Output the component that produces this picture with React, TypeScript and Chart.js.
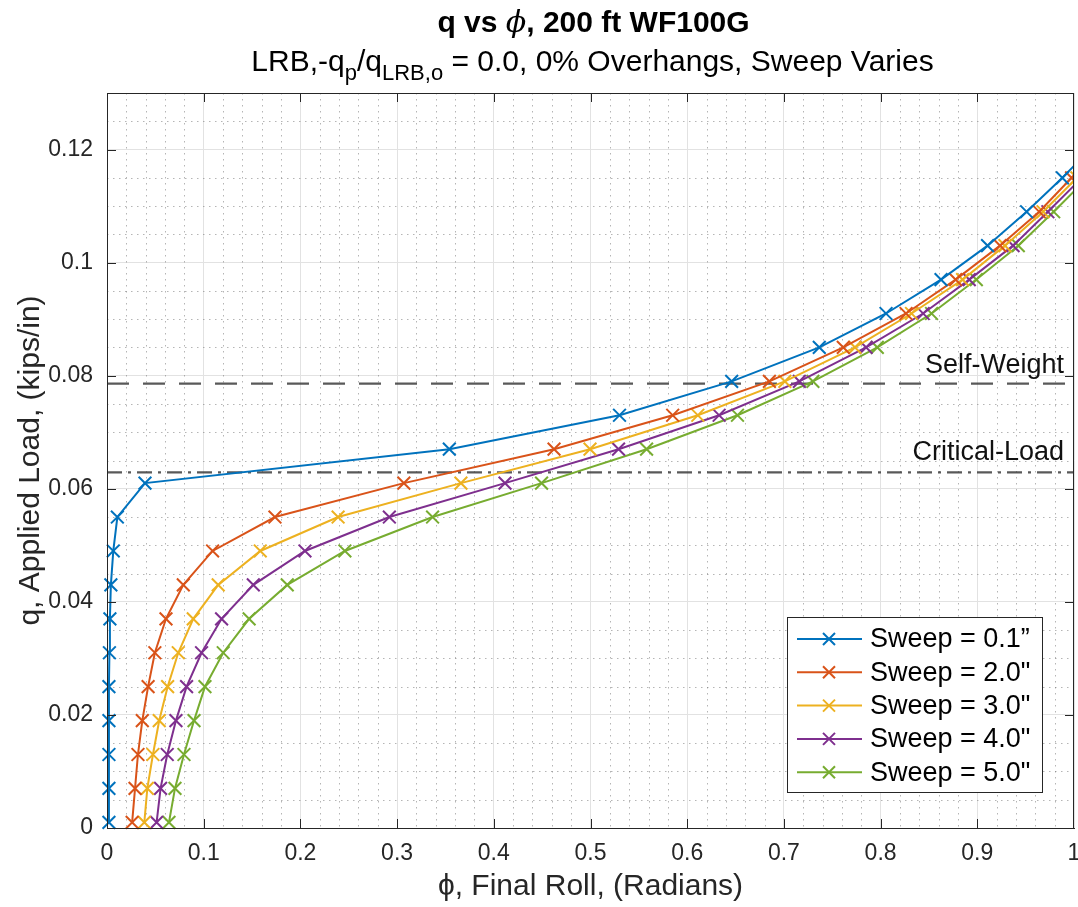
import React, { useEffect, useRef } from 'react';
import { Chart, registerables } from 'chart.js';

Chart.register(...registerables);

// ---------------- data ----------------
const Q_VALUES = [0.001, 0.007, 0.013, 0.019, 0.025, 0.031, 0.037, 0.043, 0.049, 0.055, 0.061, 0.067, 0.073, 0.079, 0.085, 0.091, 0.097, 0.103, 0.109, 0.115, 0.121];

const PHI_SWEEP_01 = [0.002, 0.002, 0.002, 0.002, 0.002, 0.0025, 0.003, 0.004, 0.0065, 0.0107, 0.0393, 0.354, 0.530, 0.646, 0.7366, 0.8056, 0.8625, 0.9106, 0.951, 0.988, 1.022];
const PHI_SWEEP_20 = [0.026, 0.029, 0.032, 0.0365, 0.0425, 0.0495, 0.061, 0.0789, 0.1092, 0.1737, 0.307, 0.4623, 0.585, 0.685, 0.7614, 0.8263, 0.8776, 0.9235, 0.964, 0.9975, 1.032];
const PHI_SWEEP_30 = [0.0386, 0.0417, 0.0475, 0.054, 0.0627, 0.0737, 0.0892, 0.115, 0.1585, 0.239, 0.366, 0.4995, 0.611, 0.701, 0.7735, 0.832, 0.8848, 0.9286, 0.968, 1.003, 1.038];
const PHI_SWEEP_40 = [0.0513, 0.0554, 0.0623, 0.0713, 0.0823, 0.0978, 0.1185, 0.1513, 0.2047, 0.292, 0.4116, 0.529, 0.633, 0.716, 0.785, 0.844, 0.8917, 0.937, 0.973, 1.008, 1.043];
const PHI_SWEEP_50 = [0.0641, 0.0703, 0.0796, 0.09, 0.1013, 0.1202, 0.147, 0.1864, 0.246, 0.3367, 0.4494, 0.558, 0.652, 0.730, 0.7966, 0.8527, 0.899, 0.9424, 0.979, 1.014, 1.048];

const SERIES_LABELS = ['Sweep = 0.1\u201D', 'Sweep = 2.0"', 'Sweep = 3.0"', 'Sweep = 4.0"', 'Sweep = 5.0"'];
const SERIES_COLORS = ['#0072BD', '#D95319', '#EDB120', '#7E2F8E', '#77AC30'];

const REF_X = [0, 1];
const SELF_WEIGHT_Q = 0.0786;
const CRITICAL_LOAD_Q = 0.0629;
const SELF_WEIGHT_LABEL = 'Self-Weight';
const CRITICAL_LOAD_LABEL = 'Critical-Load';

const X_TICKS = [0, 0.1, 0.2, 0.3, 0.4, 0.5, 0.6, 0.7, 0.8, 0.9, 1];
const X_TICK_LABELS = ['0', '0.1', '0.2', '0.3', '0.4', '0.5', '0.6', '0.7', '0.8', '0.9', '1'];
const Y_TICKS = [0, 0.02, 0.04, 0.06, 0.08, 0.1, 0.12];
const Y_TICK_LABELS = ['0', '0.02', '0.04', '0.06', '0.08', '0.1', '0.12'];

const X_MIN = 0, X_MAX = 1, Y_MIN = 0, Y_MAX = 0.13;
const X_MINOR_STEP = 0.02, Y_MINOR_STEP = 0.005;

const TITLE_A = 'q vs ';
const TITLE_PHI = '\u03D5';
const TITLE_B = ', 200 ft WF100G';
const SUBTITLE_PARTS = [
  { t: 'LRB,-q', sub: false },
  { t: 'p', sub: true },
  { t: '/q', sub: false },
  { t: 'LRB,o', sub: true },
  { t: ' = 0.0, 0% Overhangs, Sweep Varies', sub: false },
];
const X_TITLE = '\u03D5, Final Roll, (Radians)';
const Y_TITLE = 'q, Applied Load, (kips/in)';

// ---------------- styles ----------------
const FONT = '"Liberation Sans", Arial, Helvetica, sans-serif';
const PHI_FONT = '"DejaVu Serif", "Liberation Serif", serif';
const AXIS_COLOR = '#262626';

const decorPlugin = {
  id: 'matlabDecor',
  beforeDatasetsDraw(chart: any) {
    const { ctx, chartArea } = chart;
    const { left, right, top, bottom } = chartArea;
    const xs = chart.scales.x, ys = chart.scales.y;
    ctx.save();
    ctx.strokeStyle = 'rgba(120,120,120,0.55)';
    ctx.lineWidth = 1;
    ctx.setLineDash([1.5, 4.5]);
    for (let i = 1; i * X_MINOR_STEP < X_MAX - 1e-9; i++) {
      if (i % 5 === 0) continue;
      const px = Math.round(xs.getPixelForValue(i * X_MINOR_STEP)) + 0.5;
      ctx.beginPath(); ctx.moveTo(px, top); ctx.lineTo(px, bottom); ctx.stroke();
    }
    for (let i = 1; i * Y_MINOR_STEP < Y_MAX - 1e-9; i++) {
      if (i % 4 === 0) continue;
      const py = Math.round(ys.getPixelForValue(i * Y_MINOR_STEP)) + 0.5;
      ctx.beginPath(); ctx.moveTo(left, py); ctx.lineTo(right, py); ctx.stroke();
    }
    ctx.restore();
  },
  afterDatasetsDraw(chart: any) {
    const { ctx, chartArea } = chart;
    const { left, right, top, bottom } = chartArea;
    const xs = chart.scales.x, ys = chart.scales.y;
    ctx.save();
    ctx.strokeStyle = AXIS_COLOR;
    ctx.lineWidth = 1;
    ctx.setLineDash([]);
    ctx.strokeRect(Math.round(left) + 0.5, Math.round(top) + 0.5, Math.round(right - left) - 1, Math.round(bottom - top));
    const TL = 9;
    X_TICKS.forEach((v) => {
      let px = Math.round(xs.getPixelForValue(v)) + 0.5;
      if (px > right) px = right - 0.5;
      ctx.beginPath(); ctx.moveTo(px, bottom); ctx.lineTo(px, bottom - TL); ctx.stroke();
      ctx.beginPath(); ctx.moveTo(px, top); ctx.lineTo(px, top + TL); ctx.stroke();
    });
    Y_TICKS.forEach((v) => {
      const py = Math.round(ys.getPixelForValue(v)) + 0.5;
      ctx.beginPath(); ctx.moveTo(left, py); ctx.lineTo(left + TL, py); ctx.stroke();
      ctx.beginPath(); ctx.moveTo(right, py); ctx.lineTo(right - TL, py); ctx.stroke();
    });

    // reference line labels
    ctx.fillStyle = '#111';
    ctx.font = `27px ${FONT}`;
    ctx.textAlign = 'right';
    ctx.textBaseline = 'alphabetic';
    ctx.fillText(SELF_WEIGHT_LABEL, right - 10, ys.getPixelForValue(SELF_WEIGHT_Q) - 11);
    ctx.fillText(CRITICAL_LOAD_LABEL, right - 10, ys.getPixelForValue(CRITICAL_LOAD_Q) - 12);

    // legend
    const lgRight = right - 32, lgBottom = bottom - 36;
    const lgW = 255, lgH = 175;
    const lgLeft = lgRight - lgW, lgTop = lgBottom - lgH;
    ctx.fillStyle = '#ffffff';
    ctx.fillRect(lgLeft, lgTop, lgW, lgH);
    ctx.strokeStyle = AXIS_COLOR;
    ctx.lineWidth = 1;
    ctx.strokeRect(Math.round(lgLeft) + 0.5, Math.round(lgTop) + 0.5, lgW, lgH);
    ctx.font = `27px ${FONT}`;
    ctx.textAlign = 'left';
    ctx.textBaseline = 'middle';
    SERIES_LABELS.forEach((lab, i) => {
      const cy = lgTop + 22 + i * 33.3;
      const col = SERIES_COLORS[i];
      ctx.strokeStyle = col;
      ctx.lineWidth = 2;
      ctx.beginPath(); ctx.moveTo(lgLeft + 10, cy); ctx.lineTo(lgLeft + 75, cy); ctx.stroke();
      const mx = lgLeft + 42, r = 6;
      ctx.beginPath();
      ctx.moveTo(mx - r, cy - r); ctx.lineTo(mx + r, cy + r);
      ctx.moveTo(mx - r, cy + r); ctx.lineTo(mx + r, cy - r);
      ctx.stroke();
      ctx.fillStyle = '#000';
      ctx.fillText(lab, lgLeft + 83, cy + 1);
    });
    ctx.restore();
  },
  afterDraw(chart: any) {
    const { ctx, chartArea } = chart;
    const cx = (chartArea.left + chartArea.right) / 2;
    ctx.save();
    ctx.fillStyle = '#000';
    ctx.textBaseline = 'alphabetic';
    ctx.textAlign = 'left';
    // title with italic phi
    const tFont = `bold 30px ${FONT}`;
    const pFont = `italic 30px ${PHI_FONT}`;
    ctx.font = tFont;
    const wa = ctx.measureText(TITLE_A).width;
    const wb = ctx.measureText(TITLE_B).width;
    ctx.font = pFont;
    const wp = ctx.measureText(TITLE_PHI).width;
    let tx = cx + 3 - (wa + wp + wb) / 2;
    ctx.font = tFont; ctx.fillText(TITLE_A, tx, 32); tx += wa;
    ctx.font = pFont; ctx.fillText(TITLE_PHI, tx, 32); tx += wp;
    ctx.font = tFont; ctx.fillText(TITLE_B, tx, 32);

    // subtitle with subscripts
    const mainFont = `30px ${FONT}`;
    const subFont = `22px ${FONT}`;
    let total = 0;
    SUBTITLE_PARTS.forEach((p) => {
      ctx.font = p.sub ? subFont : mainFont;
      total += ctx.measureText(p.t).width;
    });
    let x = cx + 2 - total / 2;
    SUBTITLE_PARTS.forEach((p) => {
      ctx.font = p.sub ? subFont : mainFont;
      ctx.fillText(p.t, x, p.sub ? 80 : 71);
      x += ctx.measureText(p.t).width;
    });
    ctx.restore();
  },
};

function seriesData(phi: number[]) {
  return phi.map((x, i) => ({ x, y: Q_VALUES[i] }));
}

export default function App() {
  const canvasRef = useRef<HTMLCanvasElement | null>(null);

  useEffect(() => {
    const canvas = canvasRef.current;
    if (!canvas) return;
    const phis = [PHI_SWEEP_01, PHI_SWEEP_20, PHI_SWEEP_30, PHI_SWEEP_40, PHI_SWEEP_50];
    const datasets: any[] = phis.map((phi, i) => ({
      label: SERIES_LABELS[i],
      data: seriesData(phi),
      borderColor: SERIES_COLORS[i],
      backgroundColor: SERIES_COLORS[i],
      borderWidth: 2,
      pointStyle: 'crossRot',
      pointRadius: 9,
      pointBorderWidth: 2,
      pointBorderColor: SERIES_COLORS[i],
      tension: 0,
      clip: { left: 12, top: 0, right: 0, bottom: 12 },
    }));
    datasets.push({
      label: SELF_WEIGHT_LABEL,
      data: REF_X.map((x) => ({ x, y: SELF_WEIGHT_Q })),
      borderColor: 'rgba(60,60,60,0.85)',
      borderWidth: 2.2,
      borderDash: [22, 14],
      pointRadius: 0,
      clip: 0,
    });
    datasets.push({
      label: CRITICAL_LOAD_LABEL,
      data: REF_X.map((x) => ({ x, y: CRITICAL_LOAD_Q })),
      borderColor: 'rgba(60,60,60,0.85)',
      borderWidth: 2.2,
      borderDash: [15, 6, 3, 6],
      pointRadius: 0,
      clip: 0,
    });

    const chart = new Chart(canvas, {
      type: 'line',
      data: { datasets },
      options: {
        animation: false,
        responsive: false,
        devicePixelRatio: 1,
        layout: { autoPadding: false, padding: { top: 93, right: 4, left: 0, bottom: 0 } },
        plugins: {
          legend: { display: false },
          title: { display: false },
          tooltip: { enabled: false },
        },
        scales: {
          x: {
            type: 'linear',
            min: X_MIN,
            max: X_MAX,
            afterBuildTicks: (s: any) => { s.ticks = X_TICKS.map((v) => ({ value: v })); },
            afterFit: (s: any) => { s.height = 79; s.paddingLeft = 0; s.paddingRight = 0; },
            ticks: {
              autoSkip: false,
              maxRotation: 0,
              padding: 12,
              color: AXIS_COLOR,
              font: { family: FONT, size: 23 },
              callback: (_v: any, i: number) => X_TICK_LABELS[i],
            },
            grid: { color: '#e2e2e2', lineWidth: 1, drawTicks: false },
            border: { display: true, color: AXIS_COLOR, width: 1 },
            title: {
              display: true,
              text: X_TITLE,
              color: AXIS_COLOR,
              font: { family: FONT, size: 30 },
              padding: { top: 0, bottom: 2 },
            },
          },
          y: {
            type: 'linear',
            min: Y_MIN,
            max: Y_MAX,
            afterBuildTicks: (s: any) => { s.ticks = Y_TICKS.map((v) => ({ value: v })); },
            afterFit: (s: any) => { s.width = 107; s.paddingTop = 0; s.paddingBottom = 0; },
            ticks: {
              autoSkip: false,
              padding: 14,
              color: AXIS_COLOR,
              font: { family: FONT, size: 23 },
              callback: (_v: any, i: number) => Y_TICK_LABELS[i],
            },
            grid: { color: '#e2e2e2', lineWidth: 1, drawTicks: false },
            border: { display: true, color: AXIS_COLOR, width: 1 },
            title: {
              display: true,
              text: Y_TITLE,
              color: AXIS_COLOR,
              font: { family: FONT, size: 30 },
              padding: { top: 13, bottom: 0 },
            },
          },
        },
      },
      plugins: [decorPlugin],
    });
    return () => chart.destroy();
  }, []);

  return (
    <div style={{ position: 'absolute', left: 0, top: 0, width: 1078, height: 907, background: '#fff' }}>
      <canvas ref={canvasRef} width={1078} height={907} style={{ display: 'block', width: 1078, height: 907 }} />
    </div>
  );
}
